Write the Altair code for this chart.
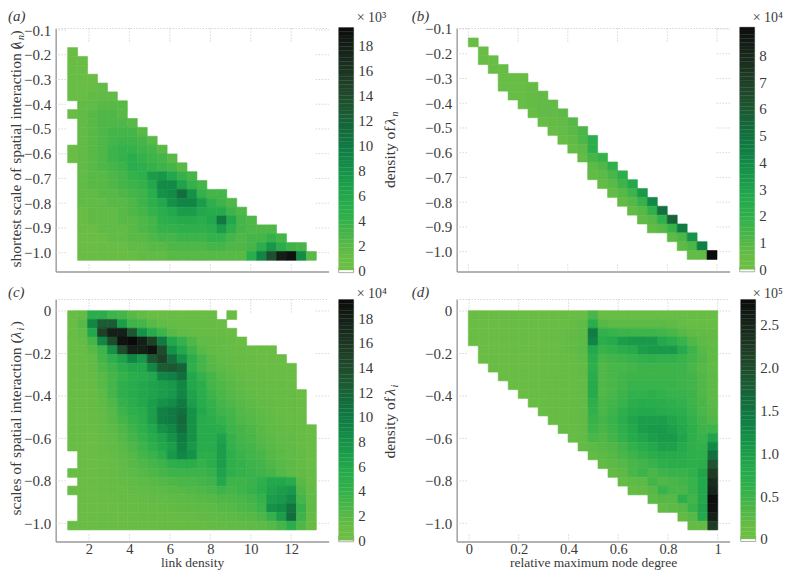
import altair as alt

SERIF = "Liberation Serif"
INK = "#3a3a3a"
AXIS = "#9a9a9a"
DOT = "#c4c4c4"

STOP_FRACS = [0.0, 0.05, 0.1, 0.15, 0.22, 0.3, 0.4, 0.5, 0.6, 0.7, 0.8, 0.9, 1.0]
STOP_COLORS = ["#6dbe45", "#69bd45", "#5ab947", "#46b549", "#30b04c", "#24a94c", "#179449", "#0f7d43", "#15663a", "#1e4f2d", "#1e3a24", "#16241a", "#0a0a0a"]

# (first column, values top row to bottom row); None = empty cell
A_ROWS = [
    (0, [1]), (0, [1, 1]), (0, [1, 1]), (0, [1, 1, 1]), (0, [1, 1, 1, 1.5]),
    (0, [1, 1, 1.5, 1.5, 1.5]),
    (1, [1.5, 1.5, 2, 2, 2]),
    (0, [1, 1.5, 2, 2.5, 2.5, 2]),
    (1, [1.5, 2, 2.5, 2.5, 2.5, 2]),
    (1, [1.5, 2, 2.5, 3, 3, 3, 2]),
    (1, [1.5, 2, 2.5, 3, 3.5, 3.5, 3, 2]),
    (0, [1, 1.5, 2, 2.5, 3.5, 4, 4, 3.5, 3, 2]),
    (0, [1, 1.5, 2, 2.5, 3.5, 4, 5, 4, 3.5, 3, 2]),
    (1, [1.5, 2, 2.5, 3, 3.5, 5, 4.5, 4, 3.5, 3, 2]),
    (1, [1.5, 2, 2, 2.5, 3, 4, 4.5, 7, 7.5, 6, 4, 3]),
    (1, [1.5, 2, 2, 2.5, 3, 3.5, 4, 6, 8.5, 8.5, 6.5, 4, 3]),
    (1, [1.5, 1.5, 2, 2, 2.5, 3, 3.5, 5, 8, 8.5, 11, 8, 4, 3, 3]),
    (1, [1.5, 1.5, 1.5, 2, 2, 2.5, 3.5, 4.5, 6, 8, 9, 9, 7, 4.5, 3.5, 2.5]),
    (1, [1, 1.5, 1.5, 1.5, 2, 2.5, 3, 4, 5, 6, 7, 7, 6, 5.5, 5.5, 3.5, 2.5]),
    (1, [1, 1.5, 1.5, 1.5, 2, 2, 2.5, 3, 4.5, 5, 5.5, 5.5, 5, 6, 10, 6, 3, 2.5]),
    (1, [1, 1, 1.5, 1.5, 1.5, 2, 2.5, 3, 4, 4, 4.5, 4.5, 4.5, 5, 7, 4.5, 3, 2.5, 2.5, 2.5]),
    (1, [1, 1, 1, 1.5, 1.5, 2, 2, 2.5, 3, 3, 3.5, 3.5, 3.5, 4, 4, 3, 2.5, 3, 3, 4, 3]),
    (1, [1, 1, 1, 1, 1, 1.5, 1.5, 2, 2, 2.5, 2.5, 2.5, 2.5, 3, 3, 2.5, 2.5, 3, 5, 7.5, 5, 3.5, 3]),
    (1, [1, 1, 1, 1, 1, 1, 1.5, 1.5, 1.5, 2, 2, 2, 2, 2, 2, 2, 2, 5, 9, 13.5, 18, 19, 8.5, 2]),
]

# (column, first row, values top to bottom)
B_COLS = [
    (0, 0, [.4]), (1, 1, [.4, .4]), (2, 2, [.4, .4]), (3, 3, [.5, .5, .5]), (4, 4, [.5, .5, .5]),
    (5, 4, [.5, .5, .5, .5]), (6, 5, [.6, .6, .6, .5]), (7, 6, [.7, .7, .7, .5]),
    (8, 7, [.7, .7, .6, .5]), (9, 8, [.8, .7, .6, .5]), (10, 9, [1, .9, .7, .6]),
    (11, 10, [1.3, 1.2, .8, .6]), (12, 11, [2.2, 2.2, 1.4, .8, .7]), (13, 13, [1.8, 1.1, .8, .6]),
    (14, 14, [2.0, 1.3, .9, .6]), (15, 15, [2.2, 1.6, 1, .7]), (16, 16, [2.8, 1.6, 1, .7]),
    (17, 17, [3.4, 1.8, 1, .7]), (18, 18, [4.1, 2, 1, .7]), (19, 19, [5, 2, 1]),
    (20, 20, [5.6, 1.8, .8]), (21, 21, [4.6, 1.2, .8]), (22, 22, [3.6, 1.2, .6]),
    (23, 23, [4.4, .7]), (24, 24, [9.2]),
]

C_ROWS = [
    (0, [1, 1.3, 5, 5, 3.5, 3, 2, 1.5, 1, 1, 1, 1, 1, 1, 1, None, 1]),
    (0, [1, 2, 9, 12.5, 12.5, 7, 3.5, 3, 2, 1.5, 1.3, 1.2, 1.2, 1.2, 1.2, 1]),
    (0, [1, 1.5, 6, 15, 18, 18, 13, 8, 5.5, 3.5, 2, 1.5, 1.3, 1.2, 1.2, 1.1, 1]),
    (0, [1, 1.3, 3, 9, 14, 19, 19.5, 18, 15, 10, 6, 4, 2.5, 1.5, 1.5, 1.3, 1.2, 1]),
    (0, [1, 1.2, 2, 3.5, 8, 14, 18, 18, 19, 14, 8, 6, 3.5, 2, 1.5, 1.3, 1.2, 1.1, 1, 1, 1]),
    (0, [1, 1.2, 1.5, 3, 4.5, 6.5, 9, 7.5, 13, 15, 11, 8, 5, 3, 2, 1.5, 1.3, 1.2, 1.1, 1, 1, 1]),
    (0, [1, 1.1, 1.4, 2.5, 3.5, 5, 6, 6, 9, 12.5, 13, 12, 4.5, 3, 2.2, 1.8, 1.4, 1.2, 1.1, 1, 1, 1, 1]),
    (0, [1, 1.1, 1.3, 2, 3, 4, 5, 5.5, 6, 9, 9.5, 11, 6, 4, 3, 2.2, 1.7, 1.4, 1.2, 1.1, 1, 1, 1]),
    (0, [1, 1.1, 1.3, 2, 3, 4.5, 5.5, 6, 6.5, 7, 7.5, 9, 6, 5, 3, 2.5, 2, 1.6, 1.3, 1.2, 1.1, 1.1, 1]),
    (0, [1, 1, 1.2, 1.8, 3, 4.5, 5.5, 6, 6.5, 7, 7.5, 9, 6.5, 5, 3.5, 2.7, 2.2, 1.8, 1.5, 1.3, 1.2, 1.1, 1.1, 1]),
    (0, [1, 1, 1.2, 1.6, 2.5, 4, 5, 6, 7, 8, 8.5, 10, 7, 5.5, 4, 3, 2.5, 2, 1.7, 1.4, 1.3, 1.2, 1.1, 1]),
    (0, [1, 1, 1.2, 1.5, 2.2, 3.5, 4.5, 5.5, 7, 9.5, 10, 11, 8, 6, 4.5, 3.5, 3, 2.3, 2, 1.6, 1.4, 1.2, 1.1, 1]),
    (0, [1, 1, 1.1, 1.4, 2, 3, 4, 5, 7, 9.5, 10, 11.5, 8, 5.5, 5, 4, 3.2, 2.5, 2.2, 1.8, 1.5, 1.3, 1.2, 1.1]),
    (0, [1, 1, 1, 1.3, 1.7, 2.5, 3.5, 4.5, 6, 8, 9, 11, 8, 5.5, 5.5, 5, 3.5, 3, 2.5, 2, 1.6, 1.4, 1.3, 1.1, 1]),
    (0, [1, 1, 1, 1.2, 1.5, 2.2, 3, 4, 5.5, 6.5, 8, 10, 8, 5.5, 5.5, 6.5, 4, 3.2, 2.8, 2.2, 1.8, 1.5, 1.4, 1.2, 1]),
    (0, [1, 1, 1, 1.1, 1.4, 1.9, 2.5, 3.5, 4.5, 6, 7, 9.5, 7.5, 5.5, 5.5, 7, 4.2, 3.3, 3, 2.4, 2, 1.6, 1.5, 1.2, 1]),
    (1, [1, 1, 1.1, 1.3, 1.7, 2.2, 3, 3.8, 5, 7.5, 9, 8, 5, 5, 7, 4.5, 3.8, 3.2, 2.8, 2.2, 1.8, 1.5, 1.3, 1]),
    (1, [1, 1, 1, 1.2, 1.5, 2, 2.5, 3, 3.5, 4.5, 5, 5, 4, 5, 7, 4.5, 4, 3.5, 3.2, 2.5, 2, 1.7, 1.3, 1]),
    (0, [1, 1, 1, 1.1, 1.3, 1.5, 1.8, 2.2, 2.5, 3, 3.5, 3.5, 3.5, 3.5, 4, 6.5, 4.5, 4, 3.8, 3.5, 3, 2.3, 1.8, 1.4, 1.1]),
    (1, [1, 1, 1, 1.2, 1.3, 1.5, 1.7, 2, 2.3, 2.5, 2.7, 2.8, 3, 3.3, 6, 3.5, 3.5, 3.8, 4.5, 6, 6, 5.5, 2, 1.2]),
    (0, [1, 1, 1, 1, 1.1, 1.2, 1.3, 1.5, 1.7, 1.8, 2, 2.2, 2.3, 2.5, 2.8, 3.5, 3, 3.5, 4, 5, 6.5, 7, 7.5, 2.5, 1.3]),
    (1, [1, 1, 1, 1, 1.1, 1.2, 1.3, 1.4, 1.5, 1.6, 1.7, 1.8, 2, 2.2, 2.5, 2.5, 2.8, 3.2, 4, 7, 7.5, 8.5, 3, 1.5]),
    (1, [1, 1, 1, 1, 1, 1.1, 1.2, 1.2, 1.3, 1.4, 1.5, 1.6, 1.7, 1.8, 2, 2.2, 2.5, 2.7, 3.5, 8, 8.5, 10.5, 4, 1.5]),
    (1, [1, 1, 1, 1, 1, 1, 1.1, 1.1, 1.2, 1.2, 1.3, 1.3, 1.4, 1.5, 1.6, 1.8, 2, 2.2, 2.6, 4, 7, 11, 3.5, 1.3]),
    (0, [1, 1, 1, 1, 1, 1, 1, 1, 1, 1.1, 1.1, 1.1, 1.2, 1.2, 1.3, 1.3, 1.4, 1.5, 1.6, 1.8, 2.2, 3, 5, 2.5, 1.2]),
]

D_ROWS = [
    (0, [.13, .13, .13, .13, .13, .13, .13, .13, .13, .13, .14, .15, .4, .15, .15, .15, .15, .15, .15, .15, .15, .15, .15, .15, .15]),
    (0, [.13, .13, .13, .13, .13, .13, .13, .13, .13, .13, .17, .22, .7, .3, .25, .25, .25, .25, .25, .25, .22, .18, .15, .15, .15]),
    (0, [.13, .13, .13, .13, .13, .13, .13, .13, .13, .17, .2, .25, 1.4, .6, .55, .5, .5, .5, .5, .45, .4, .3, .22, .2, .2]),
    (0, [.13, .13, .13, .13, .13, .13, .13, .13, .14, .18, .2, .25, 1.3, .7, .8, 1.0, 1.05, 1.05, 1.05, .85, .7, .55, .35, .25, .2]),
    (1, [.13, .13, .13, .13, .13, .13, .13, .14, .17, .2, .28, .85, .55, .6, .7, .8, 1.0, 1.05, 1.05, 1.05, .8, .5, .3, .22]),
    (1, [.13, .13, .13, .13, .13, .13, .14, .15, .17, .19, .22, .7, .4, .45, .5, .55, .6, .65, .6, .6, .55, .45, .35, .22]),
    (2, [.13, .13, .13, .13, .14, .14, .15, .16, .18, .2, .65, .35, .4, .4, .45, .5, .5, .5, .5, .5, .4, .3, .22]),
    (3, [.13, .13, .14, .14, .15, .16, .17, .18, .2, .75, .35, .4, .45, .5, .5, .5, .5, .5, .5, .45, .35, .25]),
    (4, [.13, .14, .14, .15, .16, .17, .18, .2, .8, .35, .4, .45, .55, .55, .55, .55, .55, .5, .45, .35, .25]),
    (5, [.14, .14, .15, .16, .17, .18, .2, .8, .35, .4, .5, .6, .6, .65, .6, .55, .55, .5, .35, .25]),
    (6, [.14, .15, .16, .17, .19, .2, .65, .4, .45, .55, .7, .75, .75, .7, .65, .6, .5, .4, .28]),
    (7, [.15, .16, .17, .19, .2, .6, .4, .5, .65, .8, .85, .85, .8, .75, .7, .55, .4, .3]),
    (8, [.16, .17, .19, .2, .55, .45, .55, .7, .9, 1, 1, 1, .9, .8, .6, .45, .35]),
    (9, [.17, .18, .2, .5, .4, .5, .65, .85, 1.0, 1.05, 1.05, .95, .85, .65, .5, .5]),
    (10, [.17, .2, .4, .35, .45, .6, .8, .9, 1.0, 1.05, 1.05, .9, .65, .55, .9]),
    (11, [.2, .25, .3, .35, .45, .6, .75, .85, .95, .95, .8, .65, .6, 1.25]),
    (12, [.2, .25, .3, .4, .5, .6, .7, .8, .8, .75, .65, .65, 1.55]),
    (13, [.2, .25, .3, .4, .45, .55, .65, .7, .7, .65, .7, 1.9]),
    (14, [.2, .25, .4, .5, .4, .5, .55, .55, .6, .9, 2.2]),
    (15, [.18, .22, .25, .45, .35, .4, .45, .55, .85, 2.4]),
    (16, [.18, .2, .3, .55, .4, .4, .55, .85, 2.5]),
    (18, [.25, .3, .3, .65, .45, .85, 2.75]),
    (19, [.2, .25, .3, .55, .9, 2.7]),
    (21, [.2, .3, .85, 2.55]),
    (22, [.2, .2, 2.2]),
]

LINK_TICKS = [2, 4, 6, 8, 10, 12]
DEG_TICKS = [0, 0.2, 0.4, 0.6, 0.8, 1]
Y_TICKS_TOP = [-0.1, -0.2, -0.3, -0.4, -0.5, -0.6, -0.7, -0.8, -0.9, -1.0]
Y_TICKS_BOT = [0, -0.2, -0.4, -0.6, -0.8, -1.0]

W, H1, H2, BW = 273, 243, 242, 15


def rows_to_cells(rows):
    cells = []
    for t, (start, vals) in enumerate(rows):
        for k, v in enumerate(vals):
            if v is not None:
                cells.append((start + k, t, v))
    return cells


def cols_to_cells(cols):
    return [(c, s + k, v) for c, s, vals in cols for k, v in enumerate(vals)]


def text(txt, x, y, size=15, style="normal", angle=0, align="left", baseline="alphabetic"):
    return alt.Chart(alt.Data(values=[{"t": txt}])).mark_text(
        font=SERIF, fontSize=size, fontStyle=style, color=INK, angle=angle, align=align, baseline=baseline
    ).encode(x=alt.value(x), y=alt.value(y), text="t:N")


def color_scale(vmax):
    return alt.Scale(domain=[f * vmax for f in STOP_FRACS], range=STOP_COLORS, clamp=True)


def panel(cells, x0, dx, ytop, dy, xdom, ydom, xticks, yticks, vmax, width, height, extras,
          xlabels=False, xtitle=None, xfmt=None):
    values = [{"x": x0 + c * dx, "x2": x0 + (c + 1) * dx, "y": ytop - t * dy, "y2": ytop - (t + 1) * dy, "v": v}
              for c, t, v in cells]
    xs = alt.Scale(domain=xdom, nice=False, zero=False)
    ys = alt.Scale(domain=ydom, nice=False, zero=False)
    xaxis = alt.Axis(values=xticks, grid=False, ticks=False, labels=xlabels, title=xtitle, domainColor=AXIS,
                     domainWidth=1.4, labelFont=SERIF, labelFontSize=14.5, labelColor=INK, labelPadding=1,
                     labelOverlap=False, labelFlush=False,
                     titleFont=SERIF, titleFontSize=13.5, titleColor=INK, titleFontWeight="normal", titlePadding=0,
                     labelExpr=xfmt if xfmt else "datum.label")
    yaxis = alt.Axis(values=yticks, grid=False, ticks=False, title=None, domainColor=AXIS, domainWidth=1.4,
                     labelFont=SERIF, labelFontSize=15, labelColor=INK, labelPadding=5, labelOverlap=False,
                     labelExpr="datum.value == 0 ? '0' : format(datum.value, '.1f')")
    cs = color_scale(vmax)
    heat = alt.Chart(alt.Data(values=values)).mark_rect(strokeWidth=0.6).encode(
        x=alt.X("x:Q", scale=xs, axis=xaxis),
        x2="x2:Q",
        y=alt.Y("y:Q", scale=ys, axis=yaxis),
        y2="y2:Q",
        color=alt.Color("v:Q", scale=cs, legend=None),
        stroke=alt.Stroke("v:Q", scale=cs, legend=None),
    )
    # short dotted tick marks running inward from each edge
    lenx = (xdom[1] - xdom[0]) * 10 / width
    leny = (ydom[1] - ydom[0]) * 10 / height
    segs = []
    for tv in xticks:
        segs.append({"x": tv, "x2": tv, "y": ydom[0], "y2": ydom[0] + leny * 0.8})
        segs.append({"x": tv, "x2": tv, "y": ydom[1], "y2": ydom[1] - leny * 1.4})
    for tv in yticks:
        segs.append({"x": xdom[0], "x2": xdom[0] + lenx * 1.1, "y": tv, "y2": tv})
        segs.append({"x": xdom[1], "x2": xdom[1] - lenx * 1.3, "y": tv, "y2": tv})
    segs.append({"x": xdom[0], "x2": xdom[1], "y": ydom[1], "y2": ydom[1]})
    dots = alt.Chart(alt.Data(values=segs)).mark_rule(color=DOT, strokeDash=[1, 2], strokeWidth=1).encode(
        x=alt.X("x:Q", scale=xs, axis=xaxis), x2="x2:Q", y=alt.Y("y:Q", scale=ys, axis=yaxis), y2="y2:Q"
    )
    return alt.layer(dots, heat, *extras).properties(width=width, height=height)


def colorbar(vmax, ticks, ydom, zero_lo, zero_hi, top, height, extras, xoff=0, fmt=None):
    n = 64
    vals = [{"y": vmax * i / n, "y2": top if i == n - 1 else vmax * (i + 1) / n, "v": vmax * (i + 0.5) / n}
            for i in range(n)]
    ys = alt.Scale(domain=ydom, nice=False, zero=False)
    cs = color_scale(vmax)
    axis = alt.Axis(values=ticks, orient="right", grid=False, ticks=False, domain=False, title=None,
                    labelFont=SERIF, labelFontSize=15, labelColor=INK, labelPadding=4 + xoff, labelOverlap=False,
                    labelExpr=fmt if fmt else "datum.label")
    ramp = alt.Chart(alt.Data(values=vals)).mark_rect(strokeWidth=0.3).encode(
        x=alt.value(xoff), x2=alt.value(BW + xoff),
        y=alt.Y("y:Q", scale=ys, axis=axis), y2="y2:Q",
        color=alt.Color("v:Q", scale=cs, legend=None),
        stroke=alt.Stroke("v:Q", scale=cs, legend=None),
    )
    zero = alt.Chart(alt.Data(values=[{"y": zero_lo, "y2": zero_hi}])).mark_rect(
        fill="white", stroke=AXIS, strokeWidth=0.8
    ).encode(x=alt.value(xoff), x2=alt.value(BW + xoff), y=alt.Y("y:Q", scale=ys, axis=axis), y2="y2:Q")
    return alt.layer(zero, ramp, *extras).properties(width=BW, height=height)


def spacer(h):
    return alt.Chart(alt.Data(values=[{"a": 0}])).mark_point(opacity=0).encode(
        x=alt.X("a:Q", axis=None), y=alt.Y("a:Q", axis=None)
    ).properties(width=83, height=h)


LINK_X0, LINK_DX = 0.947, 0.4917
LINK_DOM = [0.354, 13.85]

a = panel(rows_to_cells(A_ROWS), LINK_X0, LINK_DX, -0.171, 0.03583, LINK_DOM, [-1.0761, -0.0939],
          LINK_TICKS, Y_TICKS_TOP, 19.4, W, H1, [
              text("(a)", -47.7, -8, 15, "italic"),
              text("shortest scale of spatial interaction (", -35, 239, 15.5, angle=270),
              text("λ", -35, 19.5, 15.5, "italic", angle=270),
              text("n", -32, 11.5, 10, "italic", angle=270),
              text(")", -35, 7, 15.5, angle=270),
          ])
bar_a = colorbar(19.4, list(range(0, 19, 2)), [-0.12, 19.32], -0.21, 0.15, 19.4, H1, [
    text("× 10³", 18, -7, 14),
    text("density of ", 56, 159.5, 15.5, angle=270),
    text("λ", 56, 96.5, 15.5, "italic", angle=270),
    text("n", 59, 88, 10, "italic", angle=270),
])

b = panel(cols_to_cells(B_COLS), 0.0, 0.04, -0.1363, 0.0358, [-0.0469, 1.0509], [-1.0802, -0.098],
          DEG_TICKS, Y_TICKS_TOP, 9.05, W, H1, [text("(b)", -45, -8, 15, "italic")])
bar_b = colorbar(9.05, list(range(0, 9)), [-0.08, 9.0], -0.09, 0.08, 9.05, H1, [text("× 10⁴", 13, -7, 14)])

c = panel(rows_to_cells(C_ROWS), LINK_X0, LINK_DX, 0.0014, 0.04130, LINK_DOM, [-1.0855, 0.0541],
          LINK_TICKS, Y_TICKS_BOT, 19.5, W, H2, [
              text("(c)", -47.7, -2, 15, "italic"),
              text("scales of spatial interaction (", -35, 216, 15.5, angle=270),
              text("λ", -35, 39, 15.5, "italic", angle=270),
              text("i", -32, 31, 10, "italic", angle=270),
              text(")", -35, 26.7, 15.5, angle=270),
          ], xlabels=True, xtitle="link density")
bar_c = colorbar(19.5, list(range(0, 19, 2)), [-0.1, 19.5], -0.12, 0.35, 19.5, H2, [
    text("× 10⁴", 18, -1, 14),
    text("density of ", 56, 159, 15.5, angle=270),
    text("λ", 56, 96, 15.5, "italic", angle=270),
    text("i", 59, 88, 10, "italic", angle=270),
])

d = panel(rows_to_cells(D_ROWS), -0.0027, 0.04012, 0.0014, 0.04130, [-0.0495, 1.0481], [-1.0855, 0.0541],
          DEG_TICKS, Y_TICKS_BOT, 2.79, W, H2, [text("(d)", -45, -2, 15, "italic")],
          xlabels=True, xtitle="relative maximum node degree",
          xfmt="datum.value == 0 || datum.value == 1 ? format(datum.value, 'd') : format(datum.value, '.1f')")
bar_d = colorbar(2.79, [0, 0.5, 1.0, 1.5, 2.0, 2.5], [-0.03, 2.79], -0.03, 0.03, 2.79, H2, [text("× 10⁵", 13, -1, 14)],
                 xoff=1, fmt="datum.value == 0 ? '0' : format(datum.value, '.1f')")

chart = alt.concat(a, bar_a, spacer(H1), b, bar_b, c, bar_c, spacer(H2), d, bar_d,
                   columns=5, spacing={"row": 28, "column": 10}, bounds="flush").resolve_scale(
    color="independent", stroke="independent"
).configure_view(stroke=None).properties(
    autosize=alt.AutoSizeParams(type="none"),
    padding={"left": 47.67, "top": 20.5, "right": 728, "bottom": 542.5},
)

chart.save("out.html", embed_options={"renderer": "svg", "actions": False})
